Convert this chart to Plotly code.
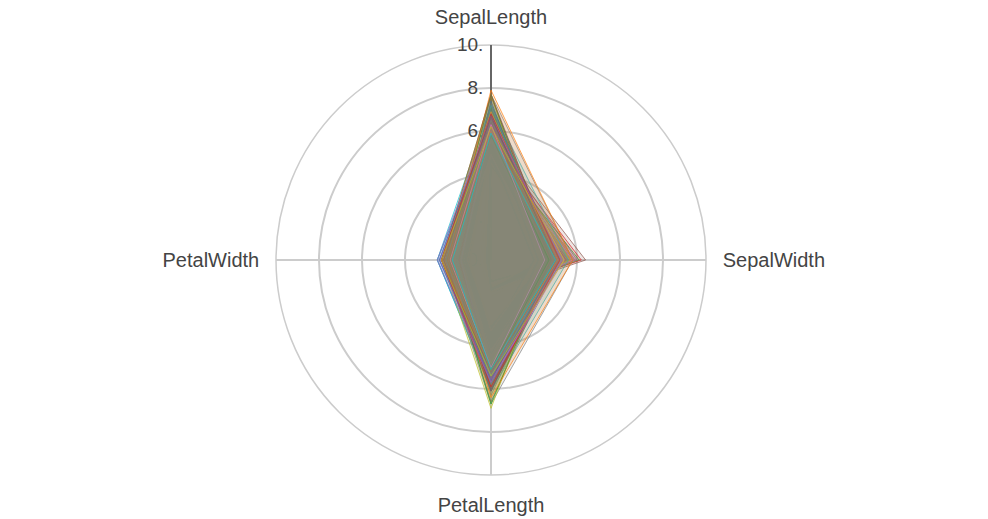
import plotly.graph_objects as go

categories = ["SepalLength", "SepalWidth", "PetalLength", "PetalWidth"]

sepal_length = [5.1,4.9,4.7,4.6,5.0,5.4,4.6,5.0,4.4,4.9,5.4,4.8,4.8,4.3,5.8,5.7,5.4,5.1,5.7,5.1,
5.4,5.1,4.6,5.1,4.8,5.0,5.0,5.2,5.2,4.7,4.8,5.4,5.2,5.5,4.9,5.0,5.5,4.9,4.4,5.1,
5.0,4.5,4.4,5.0,5.1,4.8,5.1,4.6,5.3,5.0,7.0,6.4,6.9,5.5,6.5,5.7,6.3,4.9,6.6,5.2,
5.0,5.9,6.0,6.1,5.6,6.7,5.6,5.8,6.2,5.6,5.9,6.1,6.3,6.1,6.4,6.6,6.8,6.7,6.0,5.7,
5.5,5.5,5.8,6.0,5.4,6.0,6.7,6.3,5.6,5.5,5.5,6.1,5.8,5.0,5.6,5.7,5.7,6.2,5.1,5.7,
6.3,5.8,7.1,6.3,6.5,7.6,4.9,7.3,6.7,7.2,6.5,6.4,6.8,5.7,5.8,6.4,6.5,7.7,7.7,6.0,
6.9,5.6,7.7,6.3,6.7,7.2,6.2,6.1,6.4,7.2,7.4,7.9,6.4,6.3,6.1,7.7,6.3,6.4,6.0,6.9,
6.7,6.9,5.8,6.8,6.7,6.7,6.3,6.5,6.2,5.9]
sepal_width = [3.5,3.0,3.2,3.1,3.6,3.9,3.4,3.4,2.9,3.1,3.7,3.4,3.0,3.0,4.0,4.4,3.9,3.5,3.8,3.8,
3.4,3.7,3.6,3.3,3.4,3.0,3.4,3.5,3.4,3.2,3.1,3.4,4.1,4.2,3.1,3.2,3.5,3.6,3.0,3.4,
3.5,2.3,3.2,3.5,3.8,3.0,3.8,3.2,3.7,3.3,3.2,3.2,3.1,2.3,2.8,2.8,3.3,2.4,2.9,2.7,
2.0,3.0,2.2,2.9,2.9,3.1,3.0,2.7,2.2,2.5,3.2,2.8,2.5,2.8,2.9,3.0,2.8,3.0,2.9,2.6,
2.4,2.4,2.7,2.7,3.0,3.4,3.1,2.3,3.0,2.5,2.6,3.0,2.6,2.3,2.7,3.0,2.9,2.9,2.5,2.8,
3.3,2.7,3.0,2.9,3.0,3.0,2.5,2.9,2.5,3.6,3.2,2.7,3.0,2.5,2.8,3.2,3.0,3.8,2.6,2.2,
3.2,2.8,2.8,2.7,3.3,3.2,2.8,3.0,2.8,3.0,2.8,3.8,2.8,2.8,2.6,3.0,3.4,3.1,3.0,3.1,
3.1,3.1,2.7,3.2,3.3,3.0,2.5,3.0,3.4,3.0]
petal_length = [1.4,1.4,1.3,1.5,1.4,1.7,1.4,1.5,1.4,1.5,1.5,1.6,1.4,1.1,1.2,1.5,1.3,1.4,1.7,1.5,
1.7,1.5,1.0,1.7,1.9,1.6,1.6,1.5,1.4,1.6,1.6,1.5,1.5,1.4,1.5,1.2,1.3,1.4,1.3,1.5,
1.3,1.3,1.3,1.6,1.9,1.4,1.6,1.4,1.5,1.4,4.7,4.5,4.9,4.0,4.6,4.5,4.7,3.3,4.6,3.9,
3.5,4.2,4.0,4.7,3.6,4.4,4.5,4.1,4.5,3.9,4.8,4.0,4.9,4.7,4.3,4.4,4.8,5.0,4.5,3.5,
3.8,3.7,3.9,5.1,4.5,4.5,4.7,4.4,4.1,4.0,4.4,4.6,4.0,3.3,4.2,4.2,4.2,4.3,3.0,4.1,
6.0,5.1,5.9,5.6,5.8,6.6,4.5,6.3,5.8,6.1,5.1,5.3,5.5,5.0,5.1,5.3,5.5,6.7,6.9,5.0,
5.7,4.9,6.7,4.9,5.7,6.0,4.8,4.9,5.6,5.8,6.1,6.4,5.6,5.1,5.6,6.1,5.6,5.5,4.8,5.4,
5.6,5.1,5.1,5.9,5.7,5.2,5.0,5.2,5.4,5.1]
petal_width = [0.2,0.2,0.2,0.2,0.2,0.4,0.3,0.2,0.2,0.1,0.2,0.2,0.1,0.1,0.2,0.4,0.4,0.3,0.3,0.3,
0.2,0.4,0.2,0.5,0.2,0.2,0.4,0.2,0.2,0.2,0.2,0.4,0.1,0.2,0.2,0.2,0.2,0.1,0.2,0.2,
0.3,0.3,0.2,0.6,0.4,0.3,0.2,0.2,0.2,0.2,1.4,1.5,1.5,1.3,1.5,1.3,1.6,1.0,1.3,1.4,
1.0,1.5,1.0,1.4,1.3,1.4,1.5,1.0,1.5,1.1,1.8,1.3,1.5,1.2,1.3,1.4,1.4,1.7,1.5,1.0,
1.1,1.0,1.2,1.6,1.5,1.6,1.5,1.3,1.3,1.3,1.2,1.4,1.2,1.0,1.3,1.2,1.3,1.3,1.1,1.3,
2.5,1.9,2.1,1.8,2.2,2.1,1.7,1.8,1.8,2.5,2.0,1.9,2.1,2.0,2.4,2.3,1.8,2.2,2.3,1.5,
2.3,2.0,2.0,1.8,2.1,1.8,1.8,1.8,2.1,1.6,1.9,2.0,2.2,1.5,1.4,2.3,2.4,1.8,1.8,2.1,
2.4,2.3,1.9,2.3,2.5,2.3,1.9,2.0,2.3,1.8]

radial_ticks = [0, 2, 4, 6, 8, 10]
radial_labels = ["0.", "2.", "4.", "6.", "8.", "10."]

colors = ["#1f77b4", "#ff7f0e", "#2ca02c", "#d62728", "#9467bd",
          "#8c564b", "#e377c2", "#7f7f7f", "#bcbd22", "#17becf"]


def rgba(hex_color, a):
    h = hex_color.lstrip("#")
    return f"rgba({int(h[0:2], 16)},{int(h[2:4], 16)},{int(h[4:6], 16)},{a})"


fig = go.Figure()
for i in range(len(sepal_length)):
    vals = [sepal_length[i], sepal_width[i], petal_length[i], petal_width[i]]
    c = colors[i % len(colors)]
    fig.add_trace(go.Scatterpolar(
        r=vals + [vals[0]],
        theta=categories + [categories[0]],
        mode="lines",
        fill="toself",
        fillcolor=rgba(c, 0.15),
        line=dict(color=rgba(c, 0.7), width=1),
        name=f"row {i}",
        showlegend=False,
    ))

fig.update_layout(
    width=988, height=519,
    margin=dict(l=65, r=87, t=37, b=52),
    paper_bgcolor="white",
    plot_bgcolor="white",
    font=dict(family="Liberation Sans, Arial, sans-serif", size=20, color="#444"),
    showlegend=False,
    polar=dict(
        bgcolor="white",
        radialaxis=dict(
            range=[0, 10],
            tickvals=radial_ticks,
            ticktext=radial_labels,
            angle=90,
            side="counterclockwise",
            tickangle=90,
            showline=True,
            linecolor="#666",
            linewidth=2,
            gridcolor="#cccccc",
            gridwidth=1.5,
            ticks="",
            layer="below traces",
            tickfont=dict(size=19, color="#444"),
        ),
        angularaxis=dict(
            direction="clockwise",
            rotation=90,
            showline=True,
            linecolor="#cccccc",
            linewidth=1.5,
            gridcolor="#cccccc",
            gridwidth=1.5,
            ticks="outside",
            ticklen=12,
            tickcolor="rgba(0,0,0,0)",
            layer="below traces",
            tickfont=dict(size=20, color="#444"),
        ),
    ),
)

fig.write_html("out.html")
